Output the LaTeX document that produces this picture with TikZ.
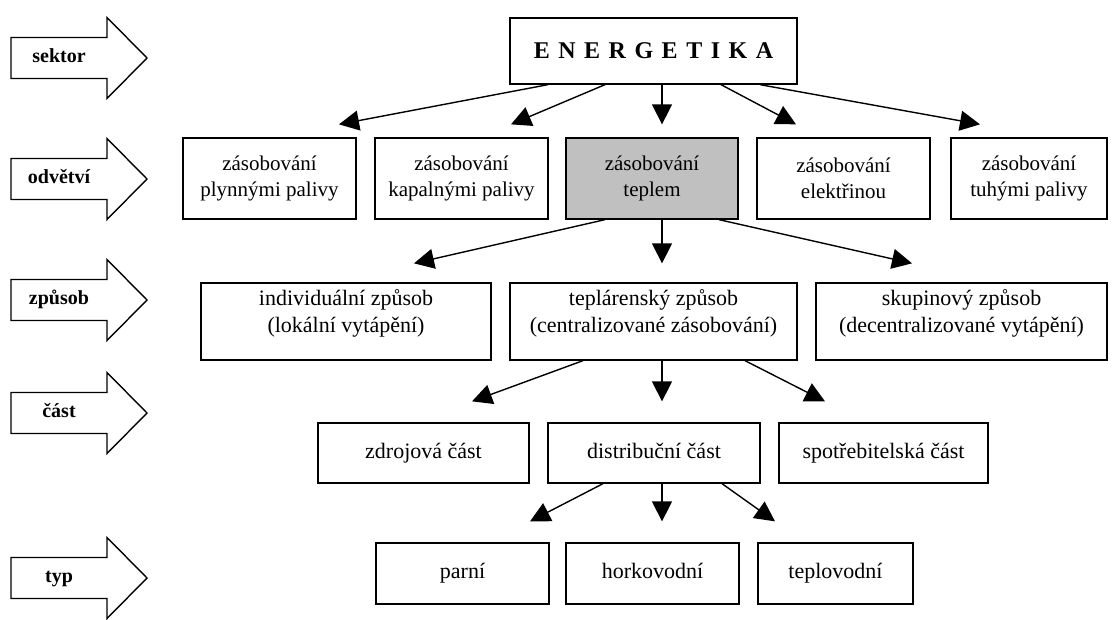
\documentclass[tikz,border=0pt]{standalone}
\usepackage{fontspec}
\setmainfont{Liberation Serif}
\usetikzlibrary{arrows.meta,calc}
\definecolor{boxgrey}{HTML}{C0C0C0}
\newcommand{\upbit}[2]{\raisebox{#1}[\height][\depth]{\begin{tabular}{@{}c@{}}#2\end{tabular}}}
\newcommand{\blockarrow}[3]{%
  \draw[blk] (11,#1-20.5) -- (107,#1-20.5) -- (107,#1-40.5) -- (147,#1) -- (107,#1+40.5) -- (107,#1+20.5) -- (11,#1+20.5) -- cycle;
  \node[lbl] (#2) at (59,#1) {#3};}
\begin{document}
\begin{tikzpicture}[x=1pt,y=-1pt,
  box/.style={draw=black,line width=1.3pt,fill=white,inner sep=0pt,align=center,font=\fontsize{21}{26.5}\selectfont},
  big/.style={font=\fontsize{22}{27}\selectfont},
  one/.style={text height=15pt,text depth=5pt},
  arr/.style={line width=1.4pt,-{Triangle[length=20pt,width=20pt]}},
  blk/.style={draw=black,line width=1.4pt,fill=white},
  lbl/.style={font=\bfseries\fontsize{20}{22}\selectfont,inner sep=0pt,text height=13pt,text depth=4pt}]
\useasboundingbox[fill=white] (0,0) rectangle (1115,619);

% left block arrows
\blockarrow{58}{lsektor}{sektor}
\blockarrow{179}{lodvetvi}{odvětví}
\blockarrow{300}{lzpusob}{způsob}
\blockarrow{413}{lcast}{část}
\blockarrow{578}{ltyp}{typ}

% row 1
\node[box,minimum width=287pt,minimum height=66pt,font=\bfseries\fontsize{24}{28}\selectfont] (en) at (653.5,51)
  {E\kern8.5pt N\kern8.5pt E\kern8.5pt R\kern8.5pt G\kern8.5pt E\kern8.5pt T\kern8.5pt I\kern8.5pt K\kern8.5pt A};

% row 2
\node[box,minimum width=173pt,minimum height=81pt] (b1) at (269.5,178.5) {zásobování\\plynnými palivy};
\node[box,minimum width=173pt,minimum height=81pt] (b2) at (461.5,178.5) {zásobování\\kapalnými palivy};
\node[box,minimum width=172pt,minimum height=81pt,fill=boxgrey] (b3) at (652,178.5) {zásobování\\teplem};
\node[box,minimum width=173pt,minimum height=81pt] (b4) at (843.5,178.5) {zásobování\\elektřinou};
\node[box,minimum width=156pt,minimum height=81pt] (b5) at (1029,178.5) {zásobování\\tuhými palivy};

% row 3
\node[box,big,minimum width=290pt,minimum height=77pt] (c1) at (346,321.5) {\upbit{8pt}{individuální způsob\\(lokální vytápění)}};
\node[box,big,minimum width=287pt,minimum height=77pt] (c2) at (653.5,321.5) {\upbit{8pt}{teplárenský způsob\\(centralizované zásobování)}};
\node[box,big,minimum width=291pt,minimum height=77pt] (c3) at (961.5,321.5) {\upbit{8pt}{skupinový způsob\\(decentralizované vytápění)}};

% row 4
\node[box,big,one,minimum width=211pt,minimum height=60pt] (d1) at (423.5,453) {zdrojová část};
\node[box,big,one,minimum width=212pt,minimum height=60pt] (d2) at (654,453) {distribuční část};
\node[box,big,one,minimum width=209pt,minimum height=60pt] (d3) at (883.5,453) {spotřebitelská část};

% row 5
\node[box,big,one,minimum width=173pt,minimum height=61pt] (e1) at (462.5,573.5) {parní};
\node[box,big,one,minimum width=173pt,minimum height=61pt] (e2) at (652.5,573.5) {horkovodní};
\node[box,big,one,minimum width=155pt,minimum height=61pt] (e3) at (835.5,573.5) {teplovodní};

% connectors row 1 -> row 2
\draw[arr] ([xshift=-105.5pt]en.south) -- ([xshift=69.5pt,yshift=13pt]b1.north);
\draw[arr] ([xshift=-48.5pt]en.south) -- ([xshift=49.5pt,yshift=13pt]b2.north);
\draw[arr] ([xshift=8.5pt]en.south) -- ([xshift=10pt,yshift=13pt]b3.north);
\draw[arr] ([xshift=67.5pt]en.south) -- ([xshift=-47.5pt,yshift=13pt]b4.north);
\draw[arr] ([xshift=106.5pt]en.south) -- ([xshift=-49pt,yshift=13pt]b5.north);

% row 2 -> row 3
\draw[arr] ([xshift=-47pt]b3.south) -- ([xshift=68pt,yshift=19pt]c1.north);
\draw[arr] ([xshift=10pt]b3.south) -- ([xshift=8.5pt,yshift=19pt]c2.north);
\draw[arr] ([xshift=67pt]b3.south) -- ([xshift=-49.5pt,yshift=19pt]c3.north);

% row 3 -> row 4
\draw[arr] ([xshift=-70.5pt]c2.south) -- ([xshift=48.5pt,yshift=21pt]d1.north);
\draw[arr] ([xshift=8.5pt]c2.south) -- ([xshift=8pt,yshift=21pt]d2.north);
\draw[arr] ([xshift=91.5pt]c2.south) -- ([xshift=-58.5pt,yshift=21pt]d3.north);

% row 4 -> row 5
\draw[arr] ([xshift=-51pt]d2.south) -- ([xshift=67.5pt,yshift=21pt]e1.north);
\draw[arr] ([xshift=8pt]d2.south) -- ([xshift=9.5pt,yshift=21pt]e2.north);
\draw[arr] ([xshift=68pt]d2.south) -- ([xshift=-60.5pt,yshift=21pt]e3.north);
\end{tikzpicture}
\end{document}
